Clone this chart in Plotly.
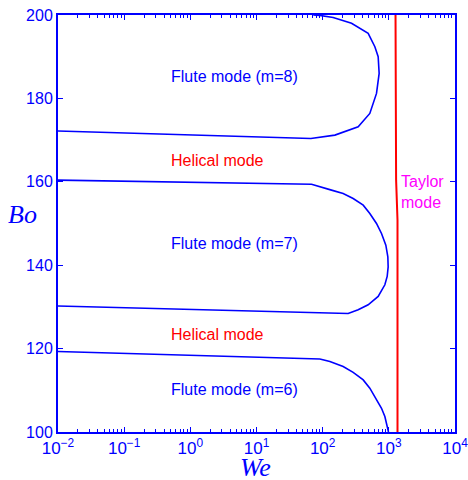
import math
import plotly.graph_objects as go

# Flute mode m=8 boundary
m8_we = [0.01, 64, 66.4, 153, 344, 516, 651, 714, 690, 615, 487, 273, 144, 90.7, 72]
m8_bo = [172.2, 170.3, 170.4, 171.2, 173.2, 176.4, 181.2, 186.0, 190.0, 192.4, 195.6, 198.0, 199.4, 199.9, 200.0]

# Flute mode m=7 boundary
m7_we = [0.01, 22, 67.9, 136, 204, 289, 410, 516, 651, 775, 901, 966, 977, 944, 871, 690, 487, 344, 243, 0.01]
m7_bo = [160.4, 159.5, 159.4, 158.0, 157.2, 156.0, 154.4, 152.4, 150.0, 147.6, 144.8, 142.0, 139.6, 137.3, 135.3, 132.5, 130.5, 129.3, 128.4, 130.2]

# Flute mode m=6 boundary
m6_we = [0.01, 90.7, 128.5, 204, 289, 410, 516, 651, 775, 871, 977, 988]
m6_bo = [119.3, 117.5, 116.9, 115.7, 114.3, 112.5, 110.5, 107.7, 105.7, 103.7, 100.5, 100.0]

# Taylor mode boundary
tay_we = [1262, 1288, 1352, 1352]
tay_bo = [200, 160.4, 150.8, 100]

labels = ["Flute mode (m=8)", "Helical mode", "Flute mode (m=7)", "Helical mode", "Flute mode (m=6)"]
label_we = [0.47, 0.47, 0.47, 0.47, 0.47]
label_bo = [185.2, 165.2, 145.3, 123.3, 110.3]
label_colors = ["#0000ff", "#ff0000", "#0000ff", "#ff0000", "#0000ff"]

taylor_label = "Taylor<br>mode"
taylor_we = 1420
taylor_bo = 157.6

x_tickvals = [1e-2, 1e-1, 1e0, 1e1, 1e2, 1e3, 1e4]
x_ticktext = ["10<sup>−2</sup>", "10<sup>−1</sup>", "10<sup>0</sup>", "10<sup>1</sup>",
              "10<sup>2</sup>", "10<sup>3</sup>", "10<sup>4</sup>"]
x_minor = [m * 10 ** e for e in range(-2, 4) for m in range(2, 10)]
y_tickvals = [100, 120, 140, 160, 180, 200]

BLUE = "#0000ff"
FONT = "Liberation Sans, Arial, sans-serif"
SERIF = "Liberation Serif, Times New Roman, serif"
fig = go.Figure()
for xs, ys in [(m8_we, m8_bo), (m7_we, m7_bo), (m6_we, m6_bo)]:
    fig.add_trace(go.Scatter(x=xs, y=ys, mode="lines", line=dict(color=BLUE, width=1.6),
                             showlegend=False, hoverinfo="skip"))
fig.add_trace(go.Scatter(x=tay_we, y=tay_bo, mode="lines", line=dict(color="#ff0000", width=2),
                         showlegend=False, hoverinfo="skip"))

for t, xw, yb, c in zip(labels, label_we, label_bo, label_colors):
    fig.add_annotation(x=math.log10(xw), y=yb, text=t, showarrow=False, xanchor="left",
                       font=dict(family=FONT, size=16, color=c))
fig.add_annotation(x=math.log10(taylor_we), y=taylor_bo, text=taylor_label, showarrow=False,
                   xanchor="left", align="left", font=dict(family=FONT, size=16, color="#ff00ff"))

fig.add_annotation(xref="paper", yref="paper", x=(255 - 58) / 397, y=(432 - 468) / 417,
                   xanchor="center", yanchor="middle", text="<i>We</i>", showarrow=False,
                   font=dict(family=SERIF, size=26, color=BLUE))
fig.add_annotation(xref="paper", yref="paper", x=(22 - 58) / 397, y=(432 - 214) / 417, xanchor="center",
                   yanchor="middle", text="<i>Bo</i>", showarrow=False,
                   font=dict(family=SERIF, size=26, color=BLUE))

axis_common = dict(showline=True, linecolor=BLUE, linewidth=2, mirror="ticks", ticks="inside",
                   tickcolor=BLUE, tickwidth=1, ticklen=5, showgrid=False, zeroline=False,
                   automargin=False, ticklabeloverflow="allow")
fig.update_xaxes(type="log", range=[-2, 4], tickmode="array", tickvals=x_tickvals, ticktext=x_ticktext,
                 tickfont=dict(family=FONT, size=17, color=BLUE),
                 minor=dict(ticks="inside", ticklen=3, tickcolor=BLUE, tickmode="array", tickvals=x_minor,
                            showgrid=False),
                 **axis_common)
fig.update_yaxes(range=[100, 200], tickmode="array", tickvals=y_tickvals,
                 tickfont=dict(family=FONT, size=16, color=BLUE), **axis_common)

fig.update_layout(width=468, height=480, margin=dict(l=58, r=13, t=15, b=48),
                  plot_bgcolor="white", paper_bgcolor="white")
fig.write_html("out.html")
